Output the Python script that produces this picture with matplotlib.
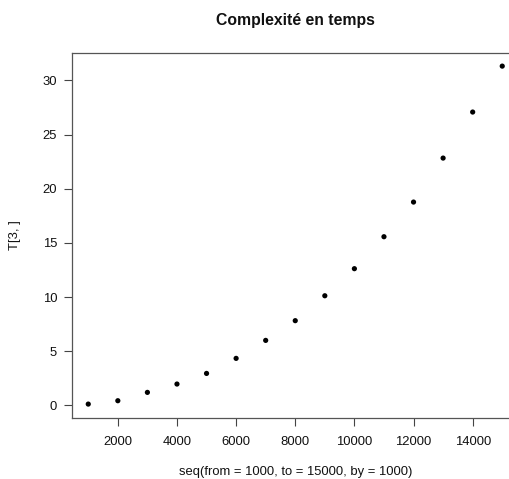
import matplotlib
matplotlib.use("Agg")
import matplotlib.pyplot as plt

x_values = [1000, 2000, 3000, 4000, 5000, 6000, 7000, 8000, 9000, 10000,
            11000, 12000, 13000, 14000, 15000]
t_values = [0.12, 0.43, 1.2, 1.97, 2.95, 4.34, 6.0, 7.82, 10.12, 12.62,
            15.57, 18.77, 22.83, 27.08, 31.32]
x_ticks = [2000, 4000, 6000, 8000, 10000, 12000, 14000]
y_ticks = [0, 5, 10, 15, 20, 25, 30]

plt.rcParams['font.family'] = ['Liberation Sans', 'DejaVu Sans']

W, H = 510, 479
fig = plt.figure(figsize=(W / 100, H / 100), dpi=100)
left, right, top, bottom = 71.7, 518.8, 52.6, 417.6
ax = fig.add_axes([left / W, 1 - bottom / H, (right - left) / W, (bottom - top) / H])

ax.scatter(x_values, t_values, s=14, color='black', edgecolors='none', zorder=3)

xr = max(x_values) - min(x_values)
yr = max(t_values) - min(t_values)
ax.set_xlim(min(x_values) - 0.04 * xr, max(x_values) + 0.04 * xr)
ax.set_ylim(min(t_values) - 0.04 * yr, max(t_values) + 0.04 * yr)

ax.set_xticks(x_ticks)
ax.set_yticks(y_ticks)
ax.set_xticklabels([str(v) for v in x_ticks])
ax.set_yticklabels([str(v) for v in y_ticks])
ax.tick_params(axis='both', direction='out', length=5.5, width=0.8, color='#444444',
               labelsize=9.4, labelcolor='#111111')
ax.tick_params(axis='x', pad=8)
ax.tick_params(axis='y', pad=5)
for sp in ax.spines.values():
    sp.set_color('#555555')
    sp.set_linewidth(0.9)

fig.text(295, 1 - 0, '', )
fig.text(295.2 / W, 1 - 21 / H, 'Complexité en temps', ha='center', va='center',
         fontsize=11.3, fontweight='bold', color='#111111')
fig.text(295.2 / W, 1 - 472.5 / H, 'seq(from = 1000, to = 15000, by = 1000)', ha='center',
         va='center', fontsize=9.4, color='#111111')
fig.text(15 / W, 1 - (top + bottom) / 2 / H, 'T[3, ]', ha='center', va='center',
         rotation=90, fontsize=9.4, color='#111111')

fig.savefig('out.png', dpi=100)
